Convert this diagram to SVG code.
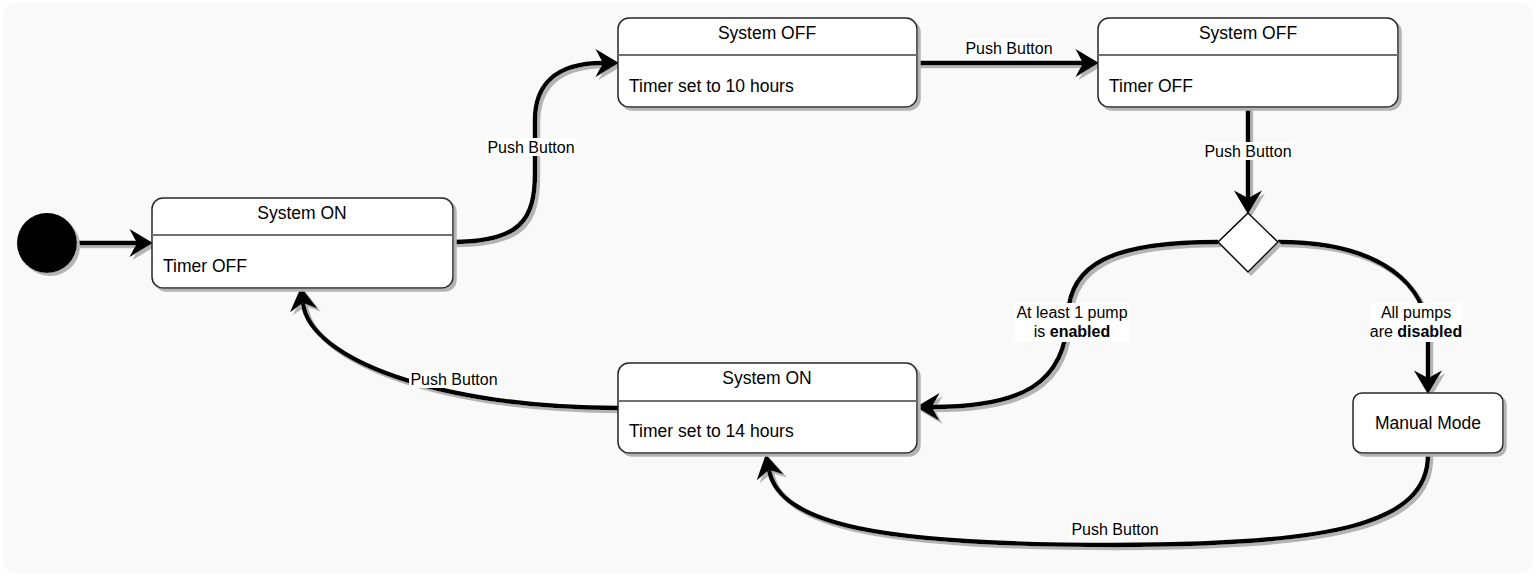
<svg xmlns="http://www.w3.org/2000/svg" width="1536" height="576" viewBox="0 0 1536 576">
<style>
.box{fill:#ffffff;stroke:#262626;stroke-width:1.5}
.sep{stroke:#707070;stroke-width:2.2}
.t{font-family:"Liberation Sans",Arial,sans-serif;font-size:17.5px;fill:#000}
.c{text-anchor:middle}
.e{fill:none;stroke:#000;stroke-width:4.4}
.lbl{font-family:"Liberation Sans",Arial,sans-serif;font-size:16px;fill:#000;text-anchor:middle}
.lb{fill:#ffffff}
</style>
<defs>
<filter id="sh" filterUnits="userSpaceOnUse" x="0" y="0" width="1536" height="576">
<feOffset in="SourceAlpha" dx="3" dy="3" result="o"/>
<feFlood flood-color="#b4b4b4"/>
<feComposite in2="o" operator="in" result="s"/>
<feMerge><feMergeNode in="s"/><feMergeNode in="SourceGraphic"/></feMerge>
</filter>
<marker id="arr" markerUnits="userSpaceOnUse" markerWidth="24" markerHeight="28" viewBox="0 0 22 26" refX="7" refY="13" orient="auto">
<path d="M0,0 L22,13 L0,26 L7,13 Z" fill="#000"/>
</marker>
</defs>
<rect x="3" y="3" width="1530" height="570" rx="12" fill="#f9f9f9"/>

<g id="connectors">
<g filter="url(#sh)">
<path class="e" d="M77,243 L137,243" marker-end="url(#arr)"/>
<path class="e" d="M453,242 C520,242 535,220 535,173 L535,120 C535,88 552,63 603,63" marker-end="url(#arr)"/>
<path class="e" d="M917,63 L1083,63" marker-end="url(#arr)"/>
<path class="e" d="M1248,107 L1248,198" marker-end="url(#arr)"/>
<path class="e" d="M1218,242 C1110,242 1070,265 1068,315 C1066,385 1020,407 932,407" marker-end="url(#arr)"/>
<path class="e" d="M1278,242 C1385,242 1427,288 1428,335 L1428,378" marker-end="url(#arr)"/>
<path class="e" d="M1428,453 C1430,525 1330,545 1115,545 C880,545 780,525 769,470" marker-end="url(#arr)"/>
<path class="e" d="M618,408 C440,408 310,360 303,303" marker-end="url(#arr)"/>
</g>
<g id="edge-labels">
<rect class="lb" x="486" y="138" width="90" height="18"/>
<text class="lbl" x="531" y="153">Push Button</text>
<rect class="lb" x="964" y="39" width="90" height="18"/>
<text class="lbl" x="1009" y="54">Push Button</text>
<rect class="lb" x="1203" y="142" width="90" height="18"/>
<text class="lbl" x="1248" y="157">Push Button</text>
<rect class="lb" x="1015" y="303" width="115" height="39"/>
<text class="lbl" x="1072" y="318">At least 1 pump</text>
<text class="lbl" x="1072" y="337">is <tspan font-weight="bold">enabled</tspan></text>
<rect class="lb" x="1370" y="303" width="93" height="39"/>
<text class="lbl" x="1416" y="318">All pumps</text>
<text class="lbl" x="1416" y="337">are <tspan font-weight="bold">disabled</tspan></text>
<rect class="lb" x="409" y="370" width="90" height="18"/>
<text class="lbl" x="454" y="385">Push Button</text>
<rect class="lb" x="1070" y="520" width="90" height="18"/>
<text class="lbl" x="1115" y="535">Push Button</text>
</g>
</g>

<g id="initial">
<circle cx="47" cy="243" r="30" fill="#000" filter="url(#sh)"/>
</g>

<g id="system-on-1">
<rect class="box" x="152" y="198" width="301" height="90" rx="11" filter="url(#sh)"/>
<line class="sep" x1="152" y1="235" x2="453" y2="235"/>
<text class="t c" x="302" y="219">System ON</text>
<text class="t" x="163" y="272">Timer OFF</text>
</g>

<g id="system-off-10h">
<rect class="box" x="618" y="18" width="299" height="89" rx="11" filter="url(#sh)"/>
<line class="sep" x1="618" y1="55" x2="917" y2="55"/>
<text class="t c" x="767" y="39">System OFF</text>
<text class="t" x="629" y="92">Timer set to 10 hours</text>
</g>

<g id="system-off-timer-off">
<rect class="box" x="1098" y="18" width="300" height="89" rx="11" filter="url(#sh)"/>
<line class="sep" x1="1098" y1="55" x2="1398" y2="55"/>
<text class="t c" x="1248" y="39">System OFF</text>
<text class="t" x="1109" y="92">Timer OFF</text>
</g>

<g id="decision">
<polygon points="1248,213 1278,242 1248,272 1218,242" fill="#ffffff" stroke="#000" stroke-width="1.5" filter="url(#sh)"/>
</g>

<g id="system-on-14h">
<rect class="box" x="618" y="363" width="299" height="90" rx="11" filter="url(#sh)"/>
<line class="sep" x1="618" y1="401" x2="917" y2="401"/>
<text class="t c" x="767" y="384">System ON</text>
<text class="t" x="629" y="437">Timer set to 14 hours</text>
</g>

<g id="manual-mode">
<rect class="box" x="1353" y="393" width="150" height="60" rx="9" filter="url(#sh)"/>
<text class="t c" x="1428" y="429">Manual Mode</text>
</g>
</svg>
